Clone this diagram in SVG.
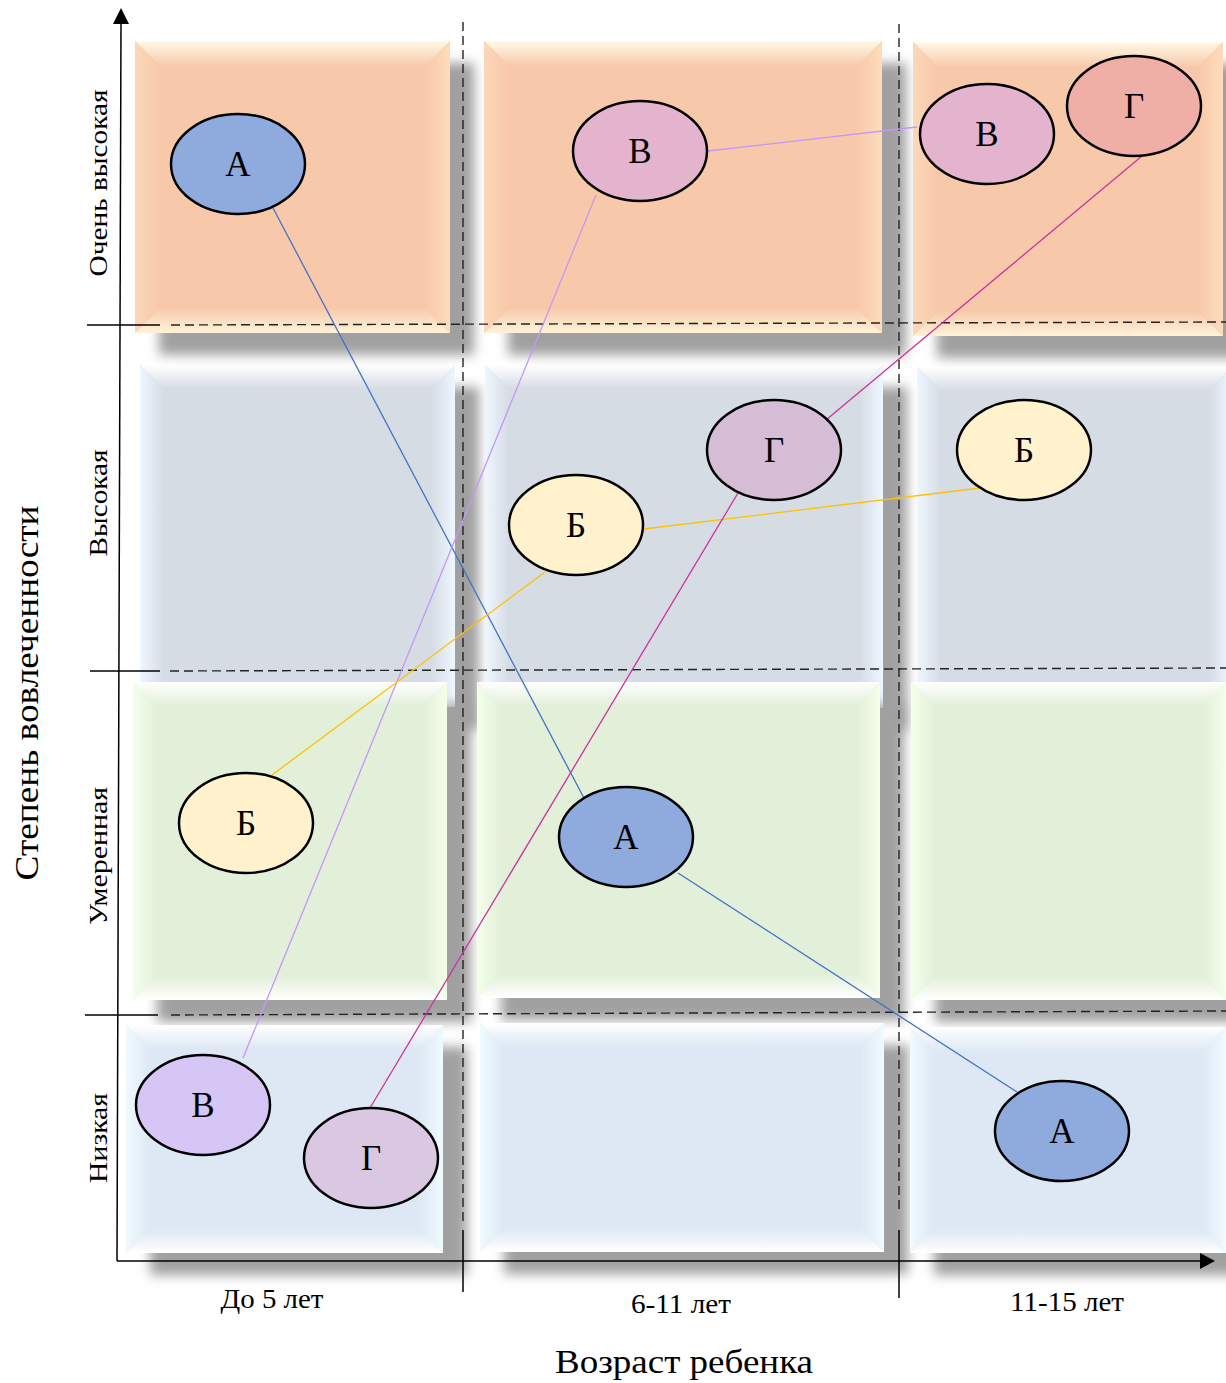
<svg xmlns="http://www.w3.org/2000/svg" width="1226" height="1383" viewBox="0 0 1226 1383">
<defs>
<filter id="sh" x="-15%" y="-15%" width="140%" height="140%">
<feDropShadow dx="24" dy="22" stdDeviation="6" flood-color="#a0a0a0" flood-opacity="1"/>
</filter>
<linearGradient id="oT" x1="0" y1="0" x2="0" y2="1"><stop offset="0" stop-color="#FFFAE6"/><stop offset="1" stop-color="#F8CBAD"/></linearGradient>
<linearGradient id="oB" x1="0" y1="0" x2="0" y2="1"><stop offset="0" stop-color="#F8CBAD"/><stop offset="1" stop-color="#FFF3D9"/></linearGradient>
<linearGradient id="oL" x1="0" y1="0" x2="1" y2="0"><stop offset="0" stop-color="#FCD8B8"/><stop offset="1" stop-color="#F7C9AA"/></linearGradient>
<linearGradient id="oR" x1="0" y1="0" x2="1" y2="0"><stop offset="0" stop-color="#F7C9AA"/><stop offset="1" stop-color="#FEDDBC"/></linearGradient>
<linearGradient id="gT" x1="0" y1="0" x2="0" y2="1"><stop offset="0" stop-color="#FFFFFF"/><stop offset="1" stop-color="#D6DCE4"/></linearGradient>
<linearGradient id="gB" x1="0" y1="0" x2="0" y2="1"><stop offset="0" stop-color="#D6DCE4"/><stop offset="1" stop-color="#FFFFFF"/></linearGradient>
<linearGradient id="gL" x1="0" y1="0" x2="1" y2="0"><stop offset="0" stop-color="#EEF6FF"/><stop offset="1" stop-color="#D6DCE4"/></linearGradient>
<linearGradient id="gR" x1="0" y1="0" x2="1" y2="0"><stop offset="0" stop-color="#D6DCE4"/><stop offset="1" stop-color="#EEF6FF"/></linearGradient>
<linearGradient id="eT" x1="0" y1="0" x2="0" y2="1"><stop offset="0" stop-color="#FFFFFF"/><stop offset="1" stop-color="#E2EFD9"/></linearGradient>
<linearGradient id="eB" x1="0" y1="0" x2="0" y2="1"><stop offset="0" stop-color="#E2EFD9"/><stop offset="1" stop-color="#FFFFFF"/></linearGradient>
<linearGradient id="eL" x1="0" y1="0" x2="1" y2="0"><stop offset="0" stop-color="#F2FFEA"/><stop offset="1" stop-color="#E2EFD9"/></linearGradient>
<linearGradient id="eR" x1="0" y1="0" x2="1" y2="0"><stop offset="0" stop-color="#E2EFD9"/><stop offset="1" stop-color="#F2FFEA"/></linearGradient>
<linearGradient id="bT" x1="0" y1="0" x2="0" y2="1"><stop offset="0" stop-color="#FFFFFF"/><stop offset="1" stop-color="#DDE8F4"/></linearGradient>
<linearGradient id="bB" x1="0" y1="0" x2="0" y2="1"><stop offset="0" stop-color="#DDE8F4"/><stop offset="1" stop-color="#FFFFFF"/></linearGradient>
<linearGradient id="bL" x1="0" y1="0" x2="1" y2="0"><stop offset="0" stop-color="#F0FAFF"/><stop offset="1" stop-color="#DDE8F4"/></linearGradient>
<linearGradient id="bR" x1="0" y1="0" x2="1" y2="0"><stop offset="0" stop-color="#DDE8F4"/><stop offset="1" stop-color="#F0FAFF"/></linearGradient>
</defs>
<style>
.dash{stroke:#222;stroke-width:1.4;stroke-dasharray:9 5;fill:none}
.ax{stroke:#000;stroke-width:1.5;fill:none}
.node ellipse{stroke:#000;stroke-width:2.5}
.node text{font-family:"Liberation Serif","Times New Roman",serif;font-size:35px;text-anchor:middle;fill:#000}
.lbl{font-family:"Liberation Serif","Times New Roman",serif;fill:#000;text-anchor:middle}
.c{fill:none;stroke-width:1.3}
</style>
<rect width="1226" height="1383" fill="#fff"/>

<g id="tiles">
<g id="tile-r1c1" filter="url(#sh)">
<rect x="135" y="41" width="315" height="292" fill="#F7C9AA"/>
<polygon points="135,41 450,41 426,65 159,65" fill="url(#oT)"/>
<polygon points="135,333 450,333 426,309 159,309" fill="url(#oB)"/>
<polygon points="135,41 159,65 159,309 135,333" fill="url(#oL)"/>
<polygon points="450,41 426,65 426,309 450,333" fill="url(#oR)"/>
</g>
<g id="tile-r1c2" filter="url(#sh)">
<rect x="484" y="41" width="398" height="292" fill="#F7C9AA"/>
<polygon points="484,41 882,41 858,65 508,65" fill="url(#oT)"/>
<polygon points="484,333 882,333 858,309 508,309" fill="url(#oB)"/>
<polygon points="484,41 508,65 508,309 484,333" fill="url(#oL)"/>
<polygon points="882,41 858,65 858,309 882,333" fill="url(#oR)"/>
</g>
<g id="tile-r1c3" filter="url(#sh)">
<rect x="913" y="42" width="310" height="294" fill="#F7C9AA"/>
<polygon points="913,42 1223,42 1199,66 937,66" fill="url(#oT)"/>
<polygon points="913,336 1223,336 1199,312 937,312" fill="url(#oB)"/>
<polygon points="913,42 937,66 937,312 913,336" fill="url(#oL)"/>
<polygon points="1223,42 1199,66 1199,312 1223,336" fill="url(#oR)"/>
</g>

<g id="tile-r2c1" filter="url(#sh)">
<rect x="140" y="365" width="315" height="342" fill="#D6DCE4"/>
<polygon points="140,365 455,365 431,389 164,389" fill="url(#gT)"/>
<polygon points="140,707 455,707 431,683 164,683" fill="url(#gB)"/>
<polygon points="140,365 164,389 164,683 140,707" fill="url(#gL)"/>
<polygon points="455,365 431,389 431,683 455,707" fill="url(#gR)"/>
</g>
<g id="tile-r2c2" filter="url(#sh)">
<rect x="485" y="365" width="398" height="343" fill="#D6DCE4"/>
<polygon points="485,365 883,365 859,389 509,389" fill="url(#gT)"/>
<polygon points="485,708 883,708 859,684 509,684" fill="url(#gB)"/>
<polygon points="485,365 509,389 509,684 485,708" fill="url(#gL)"/>
<polygon points="883,365 859,389 859,684 883,708" fill="url(#gR)"/>
</g>
<g id="tile-r2c3" filter="url(#sh)">
<rect x="917" y="367" width="315" height="340" fill="#D6DCE4"/>
<polygon points="917,367 1232,367 1208,391 941,391" fill="url(#gT)"/>
<polygon points="917,707 1232,707 1208,683 941,683" fill="url(#gB)"/>
<polygon points="917,367 941,391 941,683 917,707" fill="url(#gL)"/>
<polygon points="1232,367 1208,391 1208,683 1232,707" fill="url(#gR)"/>
</g>

<g id="tile-r3c1" filter="url(#sh)">
<rect x="133" y="682" width="314" height="318" fill="#E2EFD9"/>
<polygon points="133,682 447,682 423,706 157,706" fill="url(#eT)"/>
<polygon points="133,1000 447,1000 423,976 157,976" fill="url(#eB)"/>
<polygon points="133,682 157,706 157,976 133,1000" fill="url(#eL)"/>
<polygon points="447,682 423,706 423,976 447,1000" fill="url(#eR)"/>
</g>
<g id="tile-r3c2" filter="url(#sh)">
<rect x="477" y="682" width="403" height="316" fill="#E2EFD9"/>
<polygon points="477,682 880,682 856,706 501,706" fill="url(#eT)"/>
<polygon points="477,998 880,998 856,974 501,974" fill="url(#eB)"/>
<polygon points="477,682 501,706 501,974 477,998" fill="url(#eL)"/>
<polygon points="880,682 856,706 856,974 880,998" fill="url(#eR)"/>
</g>
<g id="tile-r3c3" filter="url(#sh)">
<rect x="911" y="682" width="315" height="318" fill="#E2EFD9"/>
<polygon points="911,682 1226,682 1202,706 935,706" fill="url(#eT)"/>
<polygon points="911,1000 1226,1000 1202,976 935,976" fill="url(#eB)"/>
<polygon points="911,682 935,706 935,976 911,1000" fill="url(#eL)"/>
<polygon points="1226,682 1202,706 1202,976 1226,1000" fill="url(#eR)"/>
</g>

<g id="tile-r4c1" filter="url(#sh)">
<rect x="126" y="1025" width="317" height="228" fill="#DDE8F4"/>
<polygon points="126,1025 443,1025 419,1049 150,1049" fill="url(#bT)"/>
<polygon points="126,1253 443,1253 419,1229 150,1229" fill="url(#bB)"/>
<polygon points="126,1025 150,1049 150,1229 126,1253" fill="url(#bL)"/>
<polygon points="443,1025 419,1049 419,1229 443,1253" fill="url(#bR)"/>
</g>
<g id="tile-r4c2" filter="url(#sh)">
<rect x="480" y="1023" width="404" height="229" fill="#DDE8F4"/>
<polygon points="480,1023 884,1023 860,1047 504,1047" fill="url(#bT)"/>
<polygon points="480,1252 884,1252 860,1228 504,1228" fill="url(#bB)"/>
<polygon points="480,1023 504,1047 504,1228 480,1252" fill="url(#bL)"/>
<polygon points="884,1023 860,1047 860,1228 884,1252" fill="url(#bR)"/>
</g>
<g id="tile-r4c3" filter="url(#sh)">
<rect x="910" y="1027" width="316" height="226" fill="#DDE8F4"/>
<polygon points="910,1027 1226,1027 1202,1051 934,1051" fill="url(#bT)"/>
<polygon points="910,1253 1226,1253 1202,1229 934,1229" fill="url(#bB)"/>
<polygon points="910,1027 934,1051 934,1229 910,1253" fill="url(#bL)"/>
<polygon points="1226,1027 1202,1051 1202,1229 1226,1253" fill="url(#bR)"/>
</g>
</g>

<g id="grid">
<line class="dash" x1="463" y1="22" x2="463" y2="1225"/>
<line class="dash" x1="899" y1="24" x2="899" y2="1210"/>
<line class="ax" x1="463" y1="1230" x2="463" y2="1292"/>
<line class="ax" x1="899" y1="1230" x2="899" y2="1298"/>
<line class="dash" x1="171" y1="325" x2="1226" y2="322"/>
<line class="dash" x1="170" y1="671" x2="1226" y2="668"/>
<line class="dash" x1="171" y1="1015" x2="1226" y2="1011"/>
<line class="ax" x1="87" y1="325" x2="160" y2="325"/>
<line class="ax" x1="90" y1="671" x2="160" y2="671"/>
<line class="ax" x1="85" y1="1015" x2="158" y2="1015"/>
</g>

<g id="axes">
<line class="ax" x1="117" y1="1261" x2="121" y2="22"/>
<polygon points="121,8 113,24 129,24" fill="#000"/>
<line class="ax" x1="117" y1="1261" x2="1202" y2="1261"/>
<polygon points="1215,1261 1200,1253 1200,1269" fill="#000"/>
</g>

<g id="connectors">
<line class="c" stroke="#4472C4" x1="273" y1="208" x2="585" y2="800"/>
<line class="c" stroke="#4472C4" x1="678" y1="873" x2="1017" y2="1092"/>
<line class="c" stroke="#C497F7" x1="243" y1="1058" x2="596" y2="195"/>
<line class="c" stroke="#C497F7" x1="708" y1="151" x2="917" y2="127"/>
<line class="c" stroke="#FFC000" x1="272" y1="775" x2="545" y2="572"/>
<line class="c" stroke="#FFC000" x1="644" y1="529" x2="980" y2="488"/>
<line class="c" stroke="#CC3399" x1="370" y1="1108" x2="738" y2="493"/>
<line class="c" stroke="#CC3399" x1="826" y1="420" x2="1142" y2="156"/>
</g>

<g id="node-a1" class="node"><ellipse cx="238" cy="164" rx="67" ry="50" fill="#8FAADC"/><text x="238" y="176">А</text></g>
<g id="node-v1" class="node"><ellipse cx="640" cy="151" rx="67" ry="50" fill="#E4B3CE"/><text x="640" y="163">В</text></g>
<g id="node-v2" class="node"><ellipse cx="987" cy="134" rx="67" ry="50" fill="#E4B3CE"/><text x="987" y="146">В</text></g>
<g id="node-g1" class="node"><ellipse cx="1134" cy="106" rx="67" ry="50" fill="#EFAFA6"/><text x="1134" y="118">Г</text></g>
<g id="node-g2" class="node"><ellipse cx="774" cy="450" rx="67" ry="50" fill="#D6BDD6"/><text x="774" y="462">Г</text></g>
<g id="node-b1" class="node"><ellipse cx="1024" cy="450" rx="67" ry="50" fill="#FFF2CC"/><text x="1024" y="462">Б</text></g>
<g id="node-b2" class="node"><ellipse cx="576" cy="525" rx="67" ry="50" fill="#FFF2CC"/><text x="576" y="537">Б</text></g>
<g id="node-b3" class="node"><ellipse cx="246" cy="823" rx="67" ry="50" fill="#FFF2CC"/><text x="246" y="835">Б</text></g>
<g id="node-a2" class="node"><ellipse cx="626" cy="837" rx="67" ry="50" fill="#8FAADC"/><text x="626" y="849">А</text></g>
<g id="node-v3" class="node"><ellipse cx="203" cy="1105" rx="67" ry="50" fill="#D5C6F6"/><text x="203" y="1117">В</text></g>
<g id="node-g3" class="node"><ellipse cx="371" cy="1158" rx="67" ry="50" fill="#DAC8E2"/><text x="371" y="1170">Г</text></g>
<g id="node-a3" class="node"><ellipse cx="1062" cy="1131" rx="67" ry="50" fill="#8FAADC"/><text x="1062" y="1143">А</text></g>

<g id="labels">
<text class="lbl" font-size="34" transform="translate(38,693) rotate(-90)" textLength="375" lengthAdjust="spacingAndGlyphs">Степень вовлеченности</text>
<text class="lbl" font-size="26" transform="translate(107,183) rotate(-90)" textLength="187" lengthAdjust="spacingAndGlyphs">Очень высокая</text>
<text class="lbl" font-size="26" transform="translate(107,503) rotate(-90)" textLength="107" lengthAdjust="spacingAndGlyphs">Высокая</text>
<text class="lbl" font-size="26" transform="translate(107,856) rotate(-90)" textLength="138" lengthAdjust="spacingAndGlyphs">Умеренная</text>
<text class="lbl" font-size="26" transform="translate(107,1138) rotate(-90)" textLength="90" lengthAdjust="spacingAndGlyphs">Низкая</text>
<text class="lbl" font-size="27" x="272" y="1308" textLength="103" lengthAdjust="spacingAndGlyphs">До 5 лет</text>
<text class="lbl" font-size="27" x="681" y="1313" textLength="100" lengthAdjust="spacingAndGlyphs">6-11 лет</text>
<text class="lbl" font-size="27" x="1067" y="1311" textLength="114" lengthAdjust="spacingAndGlyphs">11-15 лет</text>
<text class="lbl" font-size="34" x="684" y="1373" textLength="258" lengthAdjust="spacingAndGlyphs">Возраст ребенка</text>
</g>
</svg>
